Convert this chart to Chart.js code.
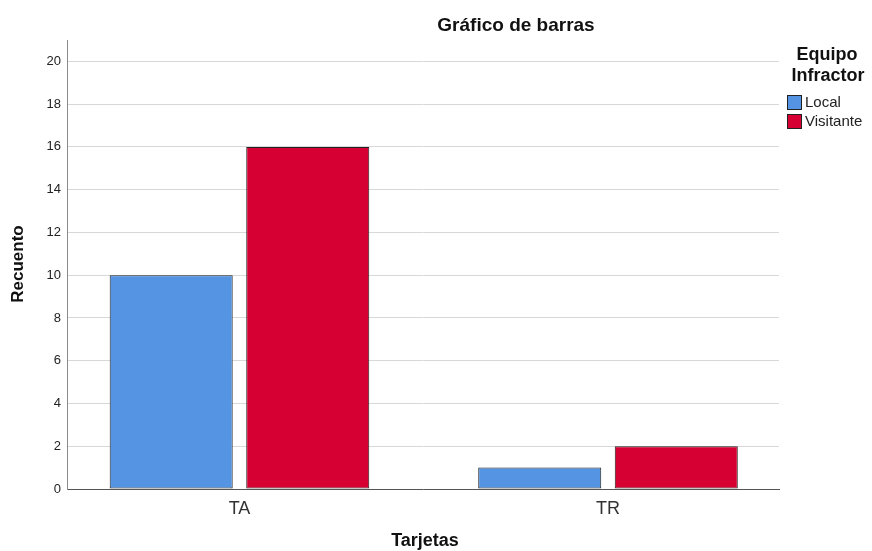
<!DOCTYPE html>
<html>
<head>
<meta charset="utf-8">
<script src="https://cdn.jsdelivr.net/npm/chart.js@4/dist/chart.umd.min.js"></script>
<style>
  html, body { margin: 0; padding: 0; background: #fff; }
  #wrap { width: 872px; height: 551px; }
</style>
</head>
<body>
<div id="wrap"><canvas id="chart" width="872" height="551"></canvas></div>
<script>
// ── Data ─────────────────────────────────────────────────────────────────
const CATEGORIES = ['TA', 'TR'];
const LOCAL      = [10, 1];
const VISITANTE  = [16, 2];
const SERIES_NAMES = ['Local', 'Visitante'];
const Y_TICKS    = [0, 2, 4, 6, 8, 10, 12, 14, 16, 18, 20];

const COLORS = {
  local:     '#5594e3',
  visitante: '#d70033',
  edge:      '#222',
  grid:      '#d8d8d8',
  text:      '#222',
};
const FONT = '"Liberation Sans", Arial, sans-serif';

// ── Text + legend overlay ───────────────────────────────────────────────
const overlay = {
  id: 'overlay',
  afterDraw(chart) {
    const ctx = chart.ctx;
    ctx.save();
    ctx.fillStyle = '#111';
    ctx.textAlign = 'center';
    ctx.textBaseline = 'middle';

    ctx.font = `bold 19px ${FONT}`;
    ctx.fillText('Gráfico de barras', 516, 26);

    ctx.font = `bold 18px ${FONT}`;
    ctx.fillText('Tarjetas', 425, 541);

    ctx.font = `bold 17px ${FONT}`;
    ctx.save();
    ctx.translate(18, 264);
    ctx.rotate(-Math.PI / 2);
    ctx.fillText('Recuento', 0, 0);
    ctx.restore();

    // legend
    ctx.font = `bold 18px ${FONT}`;
    ctx.fillText('Equipo', 827, 55);
    ctx.fillText('Infractor', 828, 76);

    ctx.textAlign = 'left';
    ctx.font = `15px ${FONT}`;
    chart.data.datasets.forEach((ds, i) => {
      const y = 95 + i * 19;
      ctx.fillStyle = ds.backgroundColor;
      ctx.fillRect(787.5, y + 0.5, 14, 14);
      ctx.strokeStyle = COLORS.edge;
      ctx.lineWidth = 1;
      ctx.strokeRect(787.5, y + 0.5, 14, 14);
      ctx.fillStyle = COLORS.text;
      ctx.fillText(ds.label, 805, y + 8);
    });
    ctx.restore();
  },
};

function points(values) {
  return values.map((v, i) => ({ x: i, y: v }));
}

function makeBarDataset(label, values, color) {
  return {
    label,
    data: points(values),
    backgroundColor: color,
    borderColor: COLORS.edge,
    borderWidth: 1,
    borderSkipped: false,
    categoryPercentage: 0.741,
    barPercentage: 0.901,
  };
}

new Chart(document.getElementById('chart'), {
  type: 'bar',
  data: {
    datasets: [
      makeBarDataset(SERIES_NAMES[0], LOCAL, COLORS.local),
      makeBarDataset(SERIES_NAMES[1], VISITANTE, COLORS.visitante),
    ],
  },
  options: {
    responsive: false,
    animation: false,
    layout: { padding: { top: 40, right: 93, left: 0, bottom: 0 } },
    plugins: {
      legend: { display: false },
      tooltip: { enabled: false },
      title: { display: false },
    },
    scales: {
      x: {
        type: 'linear',
        offset: false,
        bounds: 'data',
        min: -0.468,
        max: 1.464,
        grid: { display: false, drawTicks: false },
        border: { display: true, color: '#555', width: 1 },
        afterBuildTicks: s => { s.ticks = CATEGORIES.map((c, i) => ({ value: i })); },
        afterFit: s => { s.height = 62; },
        ticks: {
          padding: 9,
          color: '#333',
          font: { family: FONT, size: 18 },
          callback: v => CATEGORIES[v],
        },
      },
      y: {
        min: 0,
        max: 21,
        grid: { color: COLORS.grid, lineWidth: 1, drawTicks: false },
        border: { display: true, color: '#8a8a8a', width: 1 },
        afterBuildTicks: s => { s.ticks = Y_TICKS.map(v => ({ value: v })); },
        afterFit: s => { s.width = 67; },
        ticks: {
          padding: 6,
          color: COLORS.text,
          font: { family: FONT, size: 13 },
        },
      },
    },
  },
  plugins: [overlay],
});
</script>
</body>
</html>
